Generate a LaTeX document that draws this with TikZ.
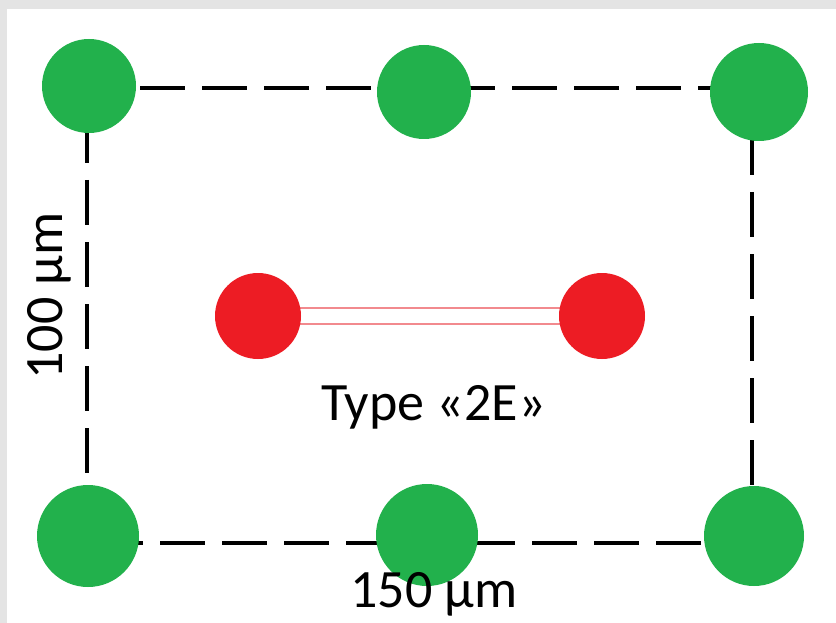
\documentclass[tikz,border=0pt]{standalone}
\usepackage{fontspec}
\setmainfont{Carlito}
\definecolor{dotgreen}{HTML}{22B14C}
\definecolor{dotred}{HTML}{ED1C24}
\definecolor{linkpink}{HTML}{F28A8E}
\definecolor{edgegrey}{HTML}{E4E4E4}
\pgfdeclarelayer{bg}
\pgfsetlayers{bg,main}
\tikzset{
  gdot/.style={circle, fill=dotgreen, inner sep=0pt, draw=none},
  rdot/.style={circle, fill=dotred, inner sep=0pt, draw=none, minimum size=86pt},
  frameline/.style={black, line width=4.5pt, dash pattern=on 45pt off 17pt},
  lbl/.style={font=\fontsize{54}{60}\selectfont, inner sep=0pt, anchor=base}
}
\begin{document}
\begin{tikzpicture}[x=1pt,y=-1pt]
\useasboundingbox (0,0) rectangle (836,623);
% green dots
\node[gdot, minimum size=94pt]  (tl) at (89,86) {};
\node[gdot, minimum size=94pt]  (tm) at (424,92) {};
\node[gdot, minimum size=98pt]  (tr) at (759,92) {};
\node[gdot, minimum size=102pt] (bl) at (88,536) {};
\node[gdot, minimum size=102pt] (bm) at (427,535) {};
\node[gdot, minimum size=100pt] (br) at (754,536) {};
% red dots
\node[rdot] (rl) at (258,316) {};
\node[rdot] (rr) at (602,316) {};
% frame corners
\coordinate (c1) at (87,88);
\coordinate (c2) at (752,88);
\coordinate (c3) at (752,543);
\coordinate (c4) at (87,543);
\begin{pgfonlayer}{bg}
\fill[edgegrey] (0,0) rectangle (836,623);
\fill[white] (7,9) rectangle (836,623);
\draw[frameline, dash phase=9pt] (c1) -- (c2);
\draw[frameline, dash phase=32pt] (c1) -- (c4);
\draw[frameline, dash phase=51pt] (c4) -- (c3);
\draw[frameline, dash phase=20pt] (c2) -- (c3);
\draw[draw=linkpink, line width=1.6pt, double=white, double distance=14.5pt] (rl.center) -- (rr.center);
\end{pgfonlayer}
% labels
\node[lbl] (type) at (433.5,420) {Type «2E»};
\node[lbl] (w) at (434,607) {150 µm};
\node[lbl, rotate=90] (h) at (62,296) {100 µm};
\end{tikzpicture}
\end{document}
